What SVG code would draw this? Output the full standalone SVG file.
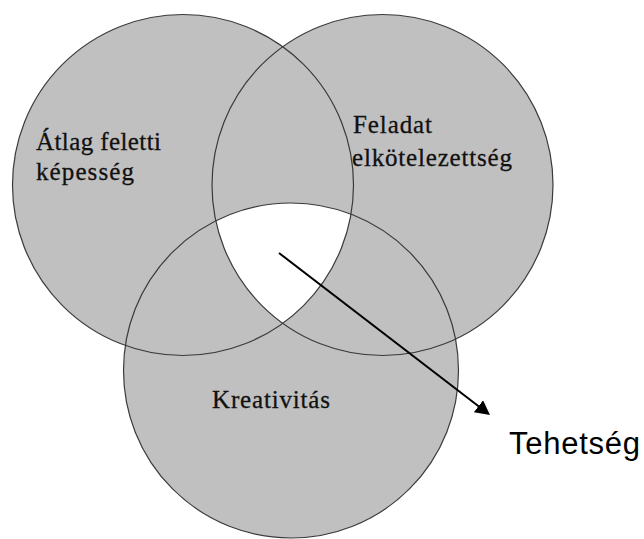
<svg xmlns="http://www.w3.org/2000/svg" width="644" height="539" viewBox="0 0 644 539">
<style>
.fill{fill:#c0c0c0;stroke:none}
.outline{fill:none;stroke:#3a3a3a;stroke-width:1.2}
.lbl{font-family:"Liberation Serif","Times New Roman",serif;font-size:25px;fill:#111;stroke:#111;stroke-width:0.3}
.tal{font-family:"Liberation Sans",Arial,sans-serif;font-size:31px;fill:#000}
.conn{stroke:#000;stroke-width:2;fill:none}
</style>
<defs>
<clipPath id="clipL"><circle cx="183" cy="185" r="170.5"/></clipPath>
<clipPath id="clipR"><circle cx="382.5" cy="185" r="170.5"/></clipPath>
<marker id="arr" markerUnits="userSpaceOnUse" markerWidth="16" markerHeight="16" refX="0.5" refY="7.5" orient="auto">
<path d="M0,0 L14.5,7.5 L0,15 z" fill="#000"/>
</marker>
</defs>
<rect width="644" height="539" fill="#fff"/>
<g id="fills">
<circle class="fill" cx="183" cy="185" r="170.5"/>
<circle class="fill" cx="382.5" cy="185" r="170.5"/>
<circle class="fill" cx="291" cy="370.5" r="167.5"/>
<g clip-path="url(#clipL)"><g clip-path="url(#clipR)"><circle cx="291" cy="370.5" r="167.5" fill="#fff"/></g></g>
</g>
<g id="atlag">
<circle class="outline" cx="183" cy="185" r="170.5"/>
<text class="lbl" x="36" y="150" textLength="125">Átlag feletti</text>
<text class="lbl" x="36" y="180" textLength="98">képesség</text>
</g>
<g id="feladat">
<circle class="outline" cx="382.5" cy="185" r="170.5"/>
<text class="lbl" x="353" y="133" textLength="79">Feladat</text>
<text class="lbl" x="352" y="166" textLength="160">elkötelezettség</text>
</g>
<g id="kreativitas">
<circle class="outline" cx="291" cy="370.5" r="167.5"/>
<text class="lbl" x="212" y="408" textLength="118">Kreativitás</text>
</g>
<g id="tehetseg">
<text class="tal" x="509" y="454" textLength="131">Tehetség</text>
</g>
<g id="connectors">
<line class="conn" x1="279" y1="253" x2="478.9" y2="406.5" marker-end="url(#arr)"/>
</g>
</svg>
